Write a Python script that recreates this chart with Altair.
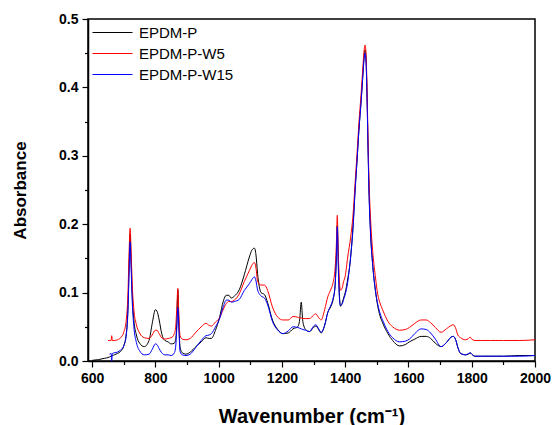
import altair as alt
import pandas as pd

FONT = "Liberation Sans"

series_names = ["EPDM-P", "EPDM-P-W5", "EPDM-P-W15"]
series_colors = ["#000000", "#ff0000", "#0000ff"]

wavenumber = [
    600, 620, 640, 650, 655, 660, 662, 664, 670, 680, 690, 700, 708, 713, 717, 720, 723, 727, 732,
    740, 750, 765, 780, 790, 800, 805, 812, 820, 830, 840, 850, 860, 865, 868, 871, 874, 878, 885,
    897, 910, 928, 945, 960, 970, 977, 990, 1003, 1015, 1024, 1032, 1040, 1050, 1065, 1081, 1097,
    1105, 1113, 1118, 1123, 1134, 1145, 1155, 1170, 1187, 1203, 1220, 1235, 1250, 1256, 1261, 1266,
    1275, 1287, 1300, 1307, 1315, 1324, 1335, 1345, 1355, 1362, 1368, 1372, 1375, 1378, 1382, 1385,
    1390, 1395, 1400, 1408, 1417, 1425, 1432, 1437, 1443, 1451, 1456, 1460, 1463, 1466, 1469, 1472,
    1475, 1480, 1487, 1495, 1503, 1510, 1520, 1535, 1550, 1572, 1590, 1603, 1620, 1640, 1656, 1670,
    1685, 1703, 1720, 1735, 1742, 1750, 1756, 1765, 1780, 1790, 1795, 1800, 1810, 1830, 1860, 1900,
    1950, 2000,
]

epdm_p = [
    0.001, 0.002, 0.004, 0.005, 0.006, 0.007, 0.008, 0.008, 0.009, 0.011, 0.014, 0.022, 0.040, 0.075,
    0.140, 0.185, 0.150, 0.095, 0.060, 0.038, 0.026, 0.021, 0.030, 0.055, 0.075, 0.073, 0.060, 0.040,
    0.030, 0.028, 0.025, 0.026, 0.035, 0.060, 0.104, 0.060, 0.020, 0.012, 0.010, 0.013, 0.021, 0.028,
    0.034, 0.033, 0.033, 0.045, 0.064, 0.088, 0.096, 0.096, 0.092, 0.095, 0.104, 0.126, 0.152, 0.162,
    0.165, 0.155, 0.128, 0.100, 0.097, 0.085, 0.060, 0.046, 0.040, 0.041, 0.047, 0.050, 0.060, 0.086,
    0.058, 0.046, 0.043, 0.049, 0.051, 0.047, 0.041, 0.052, 0.071, 0.080, 0.090, 0.110, 0.150, 0.198,
    0.150, 0.095, 0.080, 0.084, 0.092, 0.100, 0.120, 0.150, 0.200, 0.255, 0.290, 0.335, 0.385, 0.420,
    0.448, 0.455, 0.440, 0.390, 0.320, 0.255, 0.190, 0.140, 0.105, 0.080, 0.066, 0.054, 0.040, 0.030,
    0.022, 0.024, 0.028, 0.032, 0.036, 0.036, 0.033, 0.026, 0.021, 0.027, 0.035, 0.036, 0.030, 0.020,
    0.011, 0.009, 0.010, 0.012, 0.010, 0.007, 0.007, 0.007, 0.007, 0.008, 0.008,
]

epdm_p_w5 = [
    None, None, None, 0.030, 0.030, 0.030, 0.037, 0.030, 0.030, 0.031, 0.034, 0.042, 0.060, 0.095,
    0.160, 0.194, 0.165, 0.110, 0.075, 0.053, 0.041, 0.034, 0.033, 0.038, 0.045, 0.045, 0.040, 0.034,
    0.032, 0.033, 0.034, 0.040, 0.055, 0.080, 0.106, 0.070, 0.037, 0.032, 0.031, 0.033, 0.042, 0.050,
    0.055, 0.052, 0.051, 0.057, 0.063, 0.076, 0.084, 0.087, 0.087, 0.089, 0.098, 0.116, 0.132, 0.140,
    0.144, 0.136, 0.117, 0.111, 0.111, 0.103, 0.079, 0.064, 0.060, 0.060, 0.065, 0.064, 0.063, 0.063,
    0.062, 0.062, 0.062, 0.067, 0.069, 0.064, 0.060, 0.075, 0.094, 0.105, 0.115, 0.135, 0.170, 0.213,
    0.160, 0.115, 0.1035, 0.106, 0.116, 0.124, 0.152, 0.180, 0.215, 0.265, 0.300, 0.345, 0.395, 0.430,
    0.455, 0.462, 0.448, 0.400, 0.330, 0.270, 0.210, 0.160, 0.125, 0.097, 0.085, 0.073, 0.058, 0.050,
    0.045, 0.046, 0.049, 0.055, 0.060, 0.060, 0.056, 0.049, 0.042, 0.047, 0.052, 0.053, 0.047, 0.038,
    0.034, 0.031, 0.033, 0.035, 0.032, 0.030, 0.030, 0.030, 0.030, 0.030, 0.031,
]

epdm_p_w15 = [
    None, None, None, None, 0.010, 0.011, 0.000, 0.011, 0.012, 0.013, 0.016, 0.022, 0.038, 0.070,
    0.130, 0.174, 0.140, 0.085, 0.050, 0.027, 0.015, 0.009, 0.010, 0.017, 0.025, 0.024, 0.018, 0.012,
    0.009, 0.009, 0.008, 0.012, 0.025, 0.050, 0.078, 0.050, 0.014, 0.009, 0.008, 0.010, 0.020, 0.030,
    0.037, 0.038, 0.040, 0.050, 0.062, 0.080, 0.089, 0.089, 0.086, 0.087, 0.090, 0.103, 0.113, 0.119,
    0.123, 0.117, 0.104, 0.095, 0.092, 0.082, 0.058, 0.045, 0.040, 0.044, 0.050, 0.049, 0.048, 0.047,
    0.046, 0.045, 0.043, 0.051, 0.053, 0.048, 0.042, 0.052, 0.071, 0.082, 0.092, 0.110, 0.150, 0.196,
    0.140, 0.090, 0.0815, 0.083, 0.090, 0.097, 0.115, 0.152, 0.195, 0.255, 0.290, 0.335, 0.383, 0.418,
    0.442, 0.450, 0.436, 0.385, 0.315, 0.250, 0.187, 0.140, 0.105, 0.083, 0.070, 0.058, 0.043, 0.034,
    0.028, 0.029, 0.032, 0.040, 0.047, 0.046, 0.041, 0.032, 0.021, 0.027, 0.035, 0.036, 0.030, 0.020,
    0.011, 0.009, 0.011, 0.012, 0.010, 0.007, 0.007, 0.007, 0.007, 0.007, 0.008,
]

x_major_ticks = [600, 800, 1000, 1200, 1400, 1600, 1800, 2000]
x_minor_ticks = [700, 900, 1100, 1300, 1500, 1700, 1900]
y_major_ticks = [0.0, 0.1, 0.2, 0.3, 0.4, 0.5]
y_minor_ticks = [0.05, 0.15, 0.25, 0.35, 0.45]

rows = []
for name, vals in zip(series_names, [epdm_p, epdm_p_w5, epdm_p_w15]):
    for w, v in zip(wavenumber, vals):
        if v is not None:
            rows.append({"wavenumber": w, "absorbance": v, "sample": name})
df = pd.DataFrame(rows)

x_scale = alt.Scale(domain=[587, 2000], nice=False, zero=False)
y_scale = alt.Scale(domain=[0, 0.5], nice=False, zero=True)

common_axis = dict(
    grid=False, domainColor="black", tickColor="black", tickWidth=1.2,
    labelFont=FONT, labelFontWeight="bold", labelColor="black", labelFontSize=14,
    titleFont=FONT, titleFontWeight="bold", titleColor="black",
)

lines = alt.Chart(df).mark_line(strokeWidth=1, interpolate="monotone", clip=True).encode(
    x=alt.X("wavenumber:Q", scale=x_scale,
            axis=alt.Axis(values=x_major_ticks, orient="bottom", tickSize=6, domainWidth=1.5,
                          format="d", labelPadding=4, title="Wavenumber (cm⁻¹)", titleFontSize=20,
                          titlePadding=21, labelFlush=False, **common_axis)),
    y=alt.Y("absorbance:Q", scale=y_scale,
            axis=alt.Axis(values=y_major_ticks, orient="left", format=".1f", tickSize=6,
                          domainWidth=1.5, labelPadding=4, title="Absorbance", titleFontSize=17,
                          titlePadding=29, labelFlush=False, **common_axis)),
    color=alt.Color("sample:N", scale=alt.Scale(domain=series_names, range=series_colors),
                    sort=series_names,
                    legend=alt.Legend(orient="none", legendX=17, legendY=6, title=None,
                                      symbolType="M-4,0H4", symbolSize=100, symbolStrokeWidth=1,
                                      symbolFillColor="transparent",
                                      labelFont=FONT, labelFontSize=15, labelColor="black",
                                      labelOffset=19, rowPadding=5, padding=0)),
    detail="sample:N",
)

minor = alt.Chart(df).mark_line(strokeOpacity=0, clip=True).encode(
    x=alt.X("wavenumber:Q", scale=x_scale,
            axis=alt.Axis(values=x_minor_ticks, orient="bottom", tickSize=3.5, labels=False,
                          domain=False, title=None, grid=False, tickColor="black", tickWidth=1.2)),
    y=alt.Y("absorbance:Q", scale=y_scale,
            axis=alt.Axis(values=y_minor_ticks, orient="left", tickSize=3.5, labels=False,
                          domain=False, title=None, grid=False, tickColor="black", tickWidth=1.2)),
    detail="sample:N",
)

chart = alt.layer(lines, minor).resolve_axis(x="independent", y="independent").properties(
    width=447, height=342,
    autosize=alt.AutoSizeParams(type="none"),
    padding={"left": 88, "top": 19, "right": 19, "bottom": 64},
    background="white",
).configure_view(stroke="black", strokeWidth=1.5)

chart.save("out.html", embed_options={"renderer": "svg", "actions": False})
